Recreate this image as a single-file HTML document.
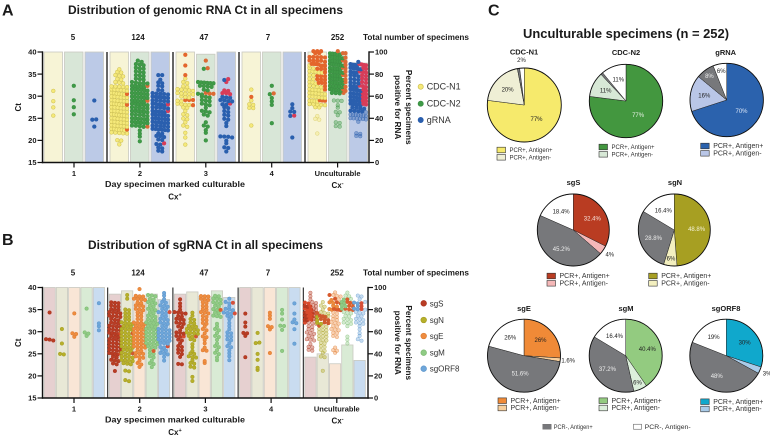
<!DOCTYPE html>
<html lang="en">
<head>
<meta charset="utf-8">
<title>Ct distribution and unculturable specimens</title>
<style>
html,body{margin:0;padding:0;background:#fff;width:770px;height:435px;overflow:hidden}
svg{display:block;font-family:"Liberation Sans",sans-serif}
</style>
</head>
<body>
<svg id="fig" width="770" height="435" viewBox="0 0 770 435" xmlns="http://www.w3.org/2000/svg"></svg>
<script>
// ---------- Panel A / B shared categories ----------
const groupCounts = ["5", "124", "47", "7", "252"];
const groupLabels = ["1", "2", "3", "4", "Unculturable"];
const ctTicks = [15, 20, 25, 30, 35, 40];
const pctTicks = [0, 20, 40, 60, 80, 100];

// ---------- Panel A: percent positive bars ----------
const barN1 = [100, 100, 100, 100, 100];
const barN2 = [100, 100, 98, 100, 100];
const barG = [100, 100, 100, 100, 90];

// ---------- Panel A: Ct values, by group ----------
const n1Normal = [
 [31, 28.8, 27.6, 25.5],
 [35.9,35.5,35.2,34.9,34.6,34.3,34.0,33.6,33.4,33.1,32.8,32.2,32.2,32.1,32.0,31.9,31.7,31.6,31.5,31.3,31.2,31.0,30.9,30.8,30.6,30.5,30.3,30.2,30.1,30.0,29.9,29.7,29.6,29.5,29.3,29.2,29.0,28.9,28.8,28.7,28.5,28.4,28.3,28.1,28.0,27.9,27.7,27.6,27.5,27.3,27.2,27.1,26.9,26.8,26.7,26.5,26.4,26.3,26.1,26.0,25.9,25.7,25.6,25.5,25.3,25.2,25.1,24.9,24.8,24.7,24.5,24.4,24.3,24.1,24.0,23.9,23.7,23.6,23.5,23.3,23.2,23.1,22.9,22.8,22.7,22.5,22.4,22.3,22.1,22.0,21.9,21.7,21.6,21.5,20.1,19.9,19.0],
 [34.1,33.4,32.9,32.3,31.9,31.8,31.6,31.4,31.2,31,30.9,30.7,30.5,30.4,30.2,30.1,29.8,29.6,29.0,28.8,28.5,28.2,28.0,27.9,27.6,27.4,26.8,26.1,25.7,25.0,24.7,24.1,23.5,22.9,21.8,20.5,18.9],
 [31.6,29.1,28.2,27.9,27.4,27.3,23.5],
 [36.9,36.5,36.3,35.8,35.7,35.5,35.2,35.1,34.9,34.8,34.1,33.9,33.4,33.2,32.7,32.6,32.4,32.1,31.9,31.8,31.5,31.4,31.3,31.1,30.9,30.8,30.7,30.5,30.4,30.3,30.1,30,29.8,29.7,29.5,29.4,29,28.9,28.8,28.7,28.3,28.2,28.1,27.9,27.8,27.7,27.6]
];
const n1Hi = [
 [],
 [30.4, 28, 22.5],
 [39.2,36.8,34.9,29.3,29.3,29.3,27.8],
 [29.9],
 [40,40,40,39.9,39.9,39,39,38.9,38.9,38.8,38.3,38.2,38.2,38.1,37.6,37.5,37.5,37.4,37.3,36.8,36.7,36.7,36.1,36,35.9,35.3,34.5,34.4,34.3,33.8,33.7,33.6,33.0,33,32.9,32.2,31.6,29.2,29.1,29]
];
const n1Pale = [[], [], [], [], [25.3,24.9,24.5,21.5]];

const n2Normal = [
 [32.5, 29.2, 27.7, 26.1],
 [38.2,37.6,37.4,37.2,36.9,36.6,36.3,36.1,35.8,35.5,35.2,34.9,34.7,34.4,34.1,33.9,33.6,33.4,33.1,32.9,32.8,32.7,32.5,32.4,32.2,32.1,31.9,31.8,31.7,31.5,31.4,31.2,31.1,30.9,30.8,30.7,30.5,30.4,30.2,30.1,29.9,29.8,29.7,29.5,29.4,29.2,29.1,28.9,28.8,28.7,28.5,28.4,28.2,28.1,27.9,27.8,27.7,27.5,27.4,27.2,27.1,26.9,26.8,26.7,26.5,26.4,26.2,26.1,25.9,25.8,25.7,25.3,25.2,25.1,24.9,24.8,24.7,24.5,24.4,24.2,24.1,23.9,23.8,23.7,23.5,23.4,23.2,22.9,22.1,21.4,20.9,19.6],
 [36.1,33.4,33.2,33.1,33,32.9,32.8,32.5,32.4,32.2,32,31.6,31.2,30.5,30.2,30.1,29.9,29.6,29.3,29,28.8,28.5,28.1,27.8,27.4,26.9,26.6,26.2,26,25.5,24.1,23.5,23,22.2,21.8,20],
 [32.5,30.3,29.4,28.7,27.9,23.7],
 [39.8,39.7,39.6,39.4,39.3,39.1,38.9,38.8,38.6,38.5,38.4,38.2,38.1,37.9,37.8,37.7,37.5,37.4,37.2,37.1,36.9,36.8,36.7,36.5,36.4,36.2,36.1,35.9,35.8,35.7,35.5,35.4,35.2,35.1,34.9,34.8,34.7,34.5,34.4,34.2,34.1,33.9,33.8,33.7,33.5,33.4,33.2,33.1,32.9,32.8,32.7,32.5,32.4,32.2,32.1,31.9,31.8,31.7,31.5,31.4,31.2,31.1,30.9,30.8,30.7]
];
const n2Hi = [
 [],
 [32.5, 29, 23],
 [38.2,36.4,30.9,30.6,30.5],
 [30.7],
 [40,39.9,39.9,38.7,38.3,37.6,37,36.6,36.3,35.6,35,34.6,33.6,33.3,32,31.6,31,30.9]
];
const n2Pale = [[], [], [], [], [29.1,29,28.9,27.8,27.5,26.4,26.2,25.7,24.1,23.8,23.2,23]];

const gNormal = [
 [29.1, 24.5, 24.6, 23],
 [34.9,34.9,33.6,33.2,32.8,32.5,32.2,31.4,31.2,30.8,30.6,30.5,30.4,30.2,30.1,29.9,29.8,29.7,29.5,29.4,29.2,29.1,28.9,28.8,28.7,28.5,28.4,28.1,27.9,27.8,27.7,27.5,27.4,27.2,27.1,26.9,26.6,26.5,26.4,26.2,26.1,25.9,25.8,25.7,25.5,25.4,25.2,25.1,24.9,24.8,24.7,24.5,24.4,24.2,24.1,23.9,23.8,23.7,23.5,23.4,23.2,23.1,22.9,22.8,22.7,22.5,22.4,22.2,22.1,21.5,21.4,21.2,21.1,20.7,20.4,20.2,19.2,18.9,18.4,18,17.8,17.4],
 [33.5,29.9,29.7,29.5,29.3,29.1,28.8,28.7,28.2,28,27.7,27.3,26.8,26.3,25.9,25.5,24.9,24.5,23.8,23.2,21,20.9,20.8,20.5,19.8,19.5,18.5,18.2,17.4],
 [28.2,27.3,26.5,26.4,25.4,20.5],
 [37.6,37.4,37.2,37.1,36.8,36.6,36.4,36.2,36,35.9,35.6,35.3,35.1,34.9,34.6,34.3,34,33.7,33.5,33.2,32.9,32.7,32.5,32.2,32,31.8,31.6,31.4,31.2,31,30.8,30.6,30.4,30.2,30,29.8,29.6,29.4,29.2,29,28.9,28.7,28.5,28.3,28.2,28,27.8,27.6,27.4,27.2,27,26.9,26.8,26.6,26.5]
];
const gHi = [
 [],
 [28.2, 26.8, 19.5],
 [33.9,33.4,31.2,31,30.8,30.8,30.3,28.5],
 [25.5],
 [37.5,37.3,37,36.9,36.5,36.1,35.7,35.5,35.2,34.8,34.5,34.2,33.8,33.4,33,32.6,32.3,31.9,31.5,31.1,30.7,30.3,29.9,29.5,29.1,28.8,28.4,28.1]
];
const gPale = [[], [], [], [], [26.2,26,25.9,25.8,25.7,25.6,25.5,25.3,25.2,25.1,25,24.9,24.8,24.6,24.4,21.6,21.3,21.2,21.1]];

// ---------- Panel B: percent positive bars ----------
const barS = [100, 94, 94, 100, 37];
const barNs = [100, 97, 96, 100, 40];
const barE = [100, 90.5, 92, 100, 31];
const barM = [100, 94, 97, 100, 48];
const barO = [100, 89, 91, 100, 34];

// ---------- Panel B: Ct values, by group ----------
const sNormal = [
 [34.4, 28.5, 28.3, 27.9],
 [36.7,36.5,36.3,36.1,35.7,35.5,35.2,35,34.8,34.6,34.4,34.2,34,33.8,33.6,33.4,33.2,33,32.6,32.4,32.2,32,31.7,31.5,31.3,31.1,30.9,30.7,30.5,30.3,30.1,29.9,29.7,29.5,29.3,29.1,28.9,28.7,28.5,28.3,28.1,27.9,27.7,27.5,27.3,27.1,26.9,26.7,26.5,26.3,26.1,25.9,25.7,25.5,25.3,25.1,24.9,24.7,24.4,24.1,23.8,23.5,23.2,22.9,22.5,21],
 [37.3,36.2,35.6,34.9,34.6,34.4,34.1,33.9,33.6,33.3,33.1,32.8,32.5,32.2,31.9,31.6,31.2,30.9,30.2,30,29.7,29.5,29.2,28.8,28.3,27.9,27.4,26.9,26.5,26.1,25.7,25.4,24.8,24.3,22.7,22.5],
 [33.9,32.2,31.1,29.8,29.6,29.2,24.2],
 [35.9,35.5,34.3,34,33.7,33.2,32.8,32.4]
];
const sHi = [[], [29.6,25.2], [29], [], [36.6,36.2,35.7,35.4,35.1,35,34.8,34.6,34.4,34.2,34.1,33.9,33.7,33.5,33.3,33.1,32.7,32.1]];
const sPale = [[], [], [], [], [38.7,37.9,37.2,36.8,36.4,36.1,35.7,35.3,34.9,34.6,34.3,34,33.6,33.2,32.9,32.5,32.2,31.9,31.6,31.3,31,30.7,30.4,30,29.7,29.4,29.1,28.8,28.5,28.2,27.9,27.1,26.6,26.3,26,25.6]];

const nNormal = [
 [30.8, 27.3, 24.9, 24.7],
 [38.5,37.6,35,34.7,34.2,33.9,33.5,33.2,32.9,32.6,32.3,32,31.8,31.6,31.4,31.2,31,30.8,30.6,30.4,30.2,30,29.8,29.4,29.2,29,28.8,28.6,28.4,28.2,28,27.8,27.6,27.4,27.2,27,26.8,26.6,26.4,26.2,26,25.8,25.6,25.4,25,24.8,24.6,24.4,24.2,24,23.8,23.6,23.4,23.2,23,22.8,22.5,21.2,20.9,19.2,18.7],
 [34.3,33.7,33,32.6,32.2,31.8,31.4,31.2,31,30.8,30.6,30.4,30.2,30,29.8,29.6,29.4,29.2,28.8,28.5,28,27,26.4,25.5,25.2,24.9,24.6,24.2,24,23.6,23.1,22.8,22.2,21.8,19.9,18.8],
 [29.8,27.5,27.7,24.9,23.8,21.7,21.5],
 [33.2,32.4,32,31.6]
];
const nHi = [[], [29.6,25.2], [29], [], [34.2,33.8,33.5,33.2,33,32.7,32.5,32.2,31.9,31.5]];
const nPale = [[], [], [], [], [36.8,36,35.5,35,34.6,34.2,33.9,33.6,31.2,31,30.7,30.4,30.2,30,29.8,29.5,29.2,29,28.8,28.5,28.2,27.9,27.6,27.3,26.9,26.5,26,25.5,25.3,24.5,24.2,21.1]];

const eNormal = [
 [34, 29.6, 29.3, 28.8],
 [39.6,38.1,37.9,37.8,37.6,37.4,37.2,37,36.6,36.3,36.1,35.9,35.6,35.3,35,34.7,34.4,34.1,33.8,33.4,33,32.6,32.2,32,31.8,31.6,31.4,31.2,31,30.8,30.6,30.4,30.2,30,29.8,29.6,29.4,29.2,29,28.8,28.6,28.4,28.2,28,27.8,27.6,27.4,27.2,27,26.8,26.6,26.4,26.2,26,25.5,25.3,25.1,24.9,24.6,24.2,23.9,23.4,23.1,22.4,22.1],
 [38,37.9,37.8,37.6,37.2,37,36.7,36.3,35.9,35.5,35.2,34.9,34.6,34.3,34,33.6,33.2,32.8,32.4,32,31.6,31.2,30.8,30.2,29.6,29,28.6,28.1,27.4,26.2,25.8,25.6,23.2,23.1],
 [34.3,33.8,33.1,31.3,30.9,30.6,25.3],
 [37,36.7,36.4,36,35.6,35.2,34.9]
];
const eHi = [[], [], [], [], [38.5,37.6,36.7,36.2,35.3,35,34.9,34.7]];
const ePale = [[], [], [], [], [38.9,38.5,38.1,37.8,37.2,34.4,33.9,33.5,33.2,32.9,32.6,32.3,32,31.7,31.4,31.1,30.8,30.5,30.2,29.9,29.6,29.2,28.7,26.2,25.8,25.6,25.4]];

const mNormal = [
 [35.4, 30, 29.5, 29.2],
 [38.5,38.3,37.9,37.5,37.1,36.8,36.6,36.2,35.9,35.6,35.3,35,34.7,34.4,34.1,33.8,33.5,33.2,32.9,32.6,32.4,32.2,32,31.8,31.6,31.4,31.2,31,30.8,30.6,30.4,30.2,30,29.8,29.6,29.4,29.2,29,28.8,28.6,28.4,28.2,28,27.8,27.6,27.4,27.2,27,26.8,26.5,26.2,25.9,25.2,24.9,24.6,24.1,23.4,23,22.6,22],
 [38.1,37.9,37.7,37.4,37.1,36.8,36.5,36.2,35.9,35.6,35.2,34.9,34.4,34.1,33.8,33.5,33.2,31.6,31.1,30.8,30.2,29.7,29.2,28.7,28.2,27.3,26.9,26.4,25.8,25.4,24.8,24.1,23.6],
 [34.8,33.9,32.8,31.5,31.4,30.4,25.5],
 [37.2,36.8,36.4,36.1,35.7,35.4]
];
const mHi = [[], [25.5], [34.8], [], [37.3,36.9,36.5,36.2,35.9,35.6,35.3,35,34.8]];
const mPale = [[], [], [], [], [38.8,38.2,37.9,37.5,34.6,34.3,34,33.7,33.4,33.1,32.8,32.5,32.2,31.9,31.6,31.3,28.9,28.2,27.3]];

const oNormal = [
 [36.3, 31.8, 31.3, 30.2],
 [38.6,38.2,37.3,36.9,36.5,36.1,35.8,35.5,35.2,34.9,34.6,34.3,34,33.7,33.4,33.1,32.8,32.5,32.2,31.9,31.6,31.3,31,30.8,30.6,30.4,30.2,30,29.8,29.6,29.4,29.2,29,28.8,28.6,28.4,28.2,28,27.8,27.6,27.4,27.2,26.5,26.2,25.9,25.6,25.3,25,24.7,24.3,23.4],
 [37.6,36.9,36.2,35.6,35.3,35,34.7,34.4,34.2,33.9,33.7,33.3,32.9,32,31.4,30.7,30,29.6,29.2,28.8,28.4,28,27.4,26.9,26.4,25.8,25.2,24.6,23.6],
 [36.2,33.9,32.8,32.3,31.9,30.7,27.2],
 [36.6,36.2,35.8,35.4,35.1]
];
const oHi = [[], [26.8,34.6], [36.5,34], [], [36.3,35.7,35.2]];
const oPale = [[], [], [], [], [38.2,37.8,37.3,36.9,34.9,34.6,34.3,34,33.7,33.4,33.1,32.8,32.5,32.2,31.9,31.6,31.3,30.6,29.7,29.2,28.5,27.8]];

// ---------- Panel C: pie data ----------
const pieNames = ["CDC-N1","CDC-N2","gRNA","sgS","sgN","sgE","sgM","sgORF8"];
const sliceAgPos = [77, 77, 70, 32.4, 48.8, 26, 40.4, 30];
const sliceAgNeg = [20, 11, 16, 4, 6, 1.6, 6, 3];
const sliceNegPos = [1, 1, 8, 45.2, 28.8, 51.6, 37.2, 48];
const sliceNegNeg = [2, 11, 6, 18.4, 16.4, 20.8, 16.4, 19];
const labelAgPos = ["77%","77%","70%","32.4%","48.8%","26%","40.4%","30%"];
const labelAgNeg = ["20%","11%","16%","4%","6%","1.6%","6%","3%"];
const labelNegPos = ["","","8%","45.2%","28.8%","51.6%","37.2%","48%"];
const labelNegNeg = ["2%","11%","6%","18.4%","16.4%","26%","16.4%","19%"];
const legendItems = ["PCR+, Antigen+","PCR+, Antigen-"];

// ---------- helpers ----------
const NS = "http://www.w3.org/2000/svg";
const root = document.getElementById("fig");
function mk(tag, attrs, name, parent){
  const el = document.createElementNS(NS, tag);
  for (const k in attrs) el.setAttribute(k, attrs[k]);
  
  
  (parent || root).appendChild(el);
  return el;
}
function txt(x, y, s, size, bold, name, extra, parent){
  const a = {x:x, y:y, "font-size":size, fill:"#1a1a1a"};
  if (bold) a["font-weight"] = "bold";
  if (extra) for (const k in extra) a[k] = extra[k];
  const el = mk("text", a, name, parent);
  el.textContent = s;
  return el;
}
function sup(x, y, base, mark, name){
  const el = mk("text", {x:x, y:y, "font-size":8, "font-weight":"bold", "text-anchor":"middle", fill:"#1a1a1a"}, name);
  el.textContent = base;
  const t = document.createElementNS(NS, "tspan");
  t.setAttribute("dy", "-3");
  t.setAttribute("font-size", "5.5");
  t.textContent = mark;
  el.appendChild(t);
}

// Row-based swarm: values share a row when within one dot height, and each
// row spreads symmetrically across the bar (as Prism scatter columns do).
function swarm(values, cx, halfW, d, yOf){
  const rows = new Map();
  values.forEach(it=>{
    const y = yOf(it.v);
    const key = Math.round(y / d);
    if (!rows.has(key)) rows.set(key, []);
    rows.get(key).push({y:y, kind:it.kind, v:it.v});
  });
  const out = [];
  [...rows.keys()].sort((a,b)=>b-a).forEach(key=>{
    const row = rows.get(key);
    const n = row.length;
    const spacing = n > 1 ? Math.min(d * 1.08, (2*halfW) / (n-1)) : 0;
    row.forEach((it, i)=>{
      const off = (i - (n-1)/2) * spacing;
      out.push({x:cx+off, y:it.y*0.5 + key*d*0.5, kind:it.kind});
    });
  });
  return out;
}

function panel(cfg){
  const yCt = v => cfg.top + (40 - v) * (cfg.bottom - cfg.top) / 25;
  const yPct = p => cfg.bottom - p * (cfg.bottom - cfg.top) / 100;
  const pg = mk("g", {}, cfg.id + "-plot");
  cfg.series.forEach((s, si)=>{
    groupCounts.forEach((_, gi)=>{
      const x = cfg.gx(gi) + si * cfg.pitch;
      mk("rect", {x:x, y:yPct(s.bar[gi]), width:cfg.barW, height:cfg.bottom - yPct(s.bar[gi]), fill:s.barFill, stroke:"#c9c9c0", "stroke-width":0.8}, cfg.id + "-bar-" + s.key + "-" + (gi+1), pg);
    });
  });
  for (let k = 1; k <= 4; k++){
    const sx = cfg.sep0 + k * cfg.sepStep;
    mk("line", {x1:sx, x2:sx, y1:cfg.top, y2:cfg.bottom, stroke:cfg.sepColor, "stroke-width":cfg.sepW}, cfg.id + "-group-separator-" + k, pg);
  }
  cfg.series.forEach((s, si)=>{
    groupCounts.forEach((_, gi)=>{
      const cx = cfg.gx(gi) + si * cfg.pitch + cfg.barW / 2;
      const vals = [];
      s.normal[gi].forEach(v=>vals.push({v:v, kind:"n"}));
      s.hi[gi].forEach(v=>vals.push({v:v, kind:"h"}));
      s.pale[gi].forEach(v=>vals.push({v:v, kind:"p"}));
      swarm(vals, cx, cfg.barW/2 + cfg.spill, cfg.d, yCt).forEach(p=>{
        const isH = p.kind === "h", isP = p.kind === "p";
        mk("circle", {cx:p.x.toFixed(1), cy:p.y.toFixed(1), r:cfg.r,
          fill:isH ? s.hiFill : s.fill, stroke:isH ? s.hiFill : s.stroke, "stroke-width":0.5,
          "fill-opacity":isP ? 0.4 : 1, "stroke-opacity":isP ? 0.6 : 1}, cfg.id + "-point-" + s.key, pg);
      });
    });
  });
  // axes
  mk("line", {x1:cfg.left, x2:cfg.left, y1:cfg.top-0.7, y2:cfg.bottom+0.7, stroke:"#111", "stroke-width":1.4}, cfg.id + "-left-axis");
  mk("line", {x1:cfg.right, x2:cfg.right, y1:cfg.top-0.7, y2:cfg.bottom+0.7, stroke:"#111", "stroke-width":1.4}, cfg.id + "-right-axis");
  mk("line", {x1:cfg.left-0.7, x2:cfg.right+0.7, y1:cfg.bottom, y2:cfg.bottom, stroke:"#111", "stroke-width":1.4}, cfg.id + "-x-axis");
  ctTicks.forEach(t=>{
    mk("line", {x1:cfg.left-5, x2:cfg.left, y1:yCt(t), y2:yCt(t), stroke:"#111", "stroke-width":1.2}, cfg.id + "-y-tick");
    txt(cfg.left-6, yCt(t)+2.7, String(t), 7.5, true, cfg.id + "-y-tick-label", {"text-anchor":"end"});
  });
  pctTicks.forEach(t=>{
    mk("line", {x1:cfg.right, x2:cfg.right+5, y1:yPct(t), y2:yPct(t), stroke:"#111", "stroke-width":1.2}, cfg.id + "-right-tick");
    txt(cfg.right+6, yPct(t)+2.7, String(t), 7.5, true, cfg.id + "-right-tick-label");
  });
  groupLabels.forEach((l, i)=>{
    const tx = cfg.tickX(i);
    mk("line", {x1:tx, x2:tx, y1:cfg.bottom, y2:cfg.bottom+5, stroke:"#111", "stroke-width":1.2}, cfg.id + "-x-tick");
    txt(tx, cfg.bottom+13.5, l, 7.5, true, cfg.id + "-x-tick-label", {"text-anchor":"middle"});
    txt(cfg.countX[i], cfg.top-12, groupCounts[i], 8, true, cfg.id + "-specimen-count", {"text-anchor":"middle"});
  });
  txt(363, cfg.top-12, "Total number of specimens", 8.2, true, cfg.id + "-total-specimens-label", {textLength:106, lengthAdjust:"spacingAndGlyphs"});
  const my = (cfg.top+cfg.bottom)/2;
  txt(21, my, "Ct", 8, true, cfg.id + "-y-axis-title", {"text-anchor":"middle", transform:"rotate(-90 21 "+my+")"});
  txt(406, my, "Percent specimens", 8.2, true, cfg.id + "-right-axis-title-1", {"text-anchor":"middle", transform:"rotate(90 406 "+my+")"});
  txt(395, my, "positive for RNA", 8.2, true, cfg.id + "-right-axis-title-2", {"text-anchor":"middle", transform:"rotate(90 395 "+my+")"});
  txt(105, cfg.bottom+24.5, "Day specimen marked culturable", 8, true, cfg.id + "-x-axis-title", {textLength:140, lengthAdjust:"spacingAndGlyphs"});
  sup(175, cfg.bottom+37, "Cx", "+", cfg.id + "-cx-positive-label");
  sup(337.5, cfg.bottom+25.5, "Cx", "-", cfg.id + "-cx-negative-label");
  // legend
  cfg.series.forEach((s, i)=>{
    const ly = cfg.legendY[i];
    mk("circle", {cx:cfg.legendX, cy:ly, r:cfg.legendR, fill:s.fill, stroke:s.stroke, "stroke-width":0.7}, "legend-marker-" + s.key);
    txt(cfg.legendX+6, ly+3, s.name, cfg.legendSize, false, "legend-entry-" + s.key, {fill:"#333"});
  });
}

// ---------- static text ----------
txt(2, 15.5, "A", 16, true, "panel-label-a");
txt(2, 245, "B", 16, true, "panel-label-b");
txt(488, 15.5, "C", 16, true, "panel-label-c");
txt(68, 14, "Distribution of genomic RNA Ct in all specimens", 12, true, "panel-a-title", {textLength:275, lengthAdjust:"spacingAndGlyphs"});
txt(88, 249, "Distribution of sgRNA Ct in all specimens", 12, true, "panel-b-title", {textLength:235, lengthAdjust:"spacingAndGlyphs"});
txt(523, 38, "Unculturable specimens (n = 252)", 13, true, "panel-c-title", {textLength:206, lengthAdjust:"spacingAndGlyphs"});

panel({
  id:"panel-a", top:52, bottom:162.5, left:42.5, right:369,
  gx:i=>44+i*66, pitch:20.5, barW:18.5, sep0:41, sepStep:66, sepColor:"#666", sepW:2,
  tickX:i=>74+i*65.9, countX:[73,138,204,268,337.5], r:1.9, d:3.6, spill:-1.5,
  legendX:420.7, legendY:[86.7,103.7,120], legendR:2.6, legendSize:9,
  series:[
   {key:"cdc-n1", name:"CDC-N1", bar:barN1, barFill:"#f7f4d6", fill:"#f5e97a", stroke:"#cdbf50", hiFill:"#e4662c", normal:n1Normal, hi:n1Hi, pale:n1Pale},
   {key:"cdc-n2", name:"CDC-N2", bar:barN2, barFill:"#d8e6d7", fill:"#3f9a47", stroke:"#3a8f42", hiFill:"#dc6b36", normal:n2Normal, hi:n2Hi, pale:n2Pale},
   {key:"grna", name:"gRNA", bar:barG, barFill:"#bccae7", fill:"#2a5fae", stroke:"#2a5fae", hiFill:"#d83c58", normal:gNormal, hi:gHi, pale:gPale}
  ]
});

panel({
  id:"panel-b", top:287.5, bottom:398, left:42.5, right:368,
  gx:i=>44+i*65.2, pitch:12.3, barW:11.3, sep0:42.5, sepStep:65.2, sepColor:"#111", sepW:1,
  tickX:i=>74+i*65.7, countX:[73,138,204,268,337], r:1.8, d:3.4, spill:0,
  legendX:423.7, legendY:[303.3,320,336,352.7,368.7], legendR:2.8, legendSize:8,
  series:[
   {key:"sgs", name:"sgS", bar:barS, barFill:"#e6d0d0", fill:"#b93c24", stroke:"#a9351f", hiFill:"#d84a2c", normal:sNormal, hi:sHi, pale:sPale},
   {key:"sgn", name:"sgN", bar:barNs, barFill:"#e8e8d6", fill:"#b7b02a", stroke:"#a39c22", hiFill:"#cf5a2e", normal:nNormal, hi:nHi, pale:nPale},
   {key:"sge", name:"sgE", bar:barE, barFill:"#f9e6d6", fill:"#ef8c3f", stroke:"#dc7d33", hiFill:"#d8592c", normal:eNormal, hi:eHi, pale:ePale},
   {key:"sgm", name:"sgM", bar:barM, barFill:"#d9ebd5", fill:"#8fcb84", stroke:"#7dba72", hiFill:"#d8602f", normal:mNormal, hi:mHi, pale:mPale},
   {key:"sgorf8", name:"sgORF8", bar:barO, barFill:"#c9dcf0", fill:"#6ea6da", stroke:"#5f97cb", hiFill:"#d6503a", normal:oNormal, hi:oHi, pale:oPale}
  ]
});

// ---------- pies ----------
const pieLayout = [
 {cx:524.3, cy:105, r:37, tx:524, ty:54.5, sw:497, ly:150, fs:6, main:"#f6ea6c", light:"#efefd5", mainText:"#222"},
 {cx:626, cy:101, r:36.7, tx:626, ty:55, sw:599, ly:147, fs:6, main:"#43973f", light:"#d7e8d6", mainText:"#e8f2e6"},
 {cx:726.7, cy:100, r:36.7, tx:725.7, ty:55, sw:700.7, ly:146, fs:7, main:"#2b62ad", light:"#b9c6e7", mainText:"#dbe6f7"},
 {cx:573.3, cy:230, r:36, tx:573.5, ty:185, sw:547, ly:276, fs:7, main:"#b93c22", light:"#f5b8b8", mainText:"#f7e3dc"},
 {cx:674.3, cy:230, r:36, tx:675, ty:185, sw:648.7, ly:276, fs:7, main:"#a79f22", light:"#f3efbf", mainText:"#f5f3d8"},
 {cx:524, cy:355.7, r:36.5, tx:524, ty:311, sw:498, ly:400.7, fs:7, main:"#f08a37", light:"#f8cf9c", mainText:"#222"},
 {cx:625.7, cy:355.7, r:36.5, tx:626, ty:311, sw:599, ly:400.7, fs:7, main:"#93cb80", light:"#dcefdb", mainText:"#222"},
 {cx:726.3, cy:355.7, r:36.5, tx:726, ty:311, sw:700.7, ly:401.7, fs:7, main:"#10a8cc", light:"#a9cbe8", mainText:"#222"}
];
function polar(cx, cy, r, frac){
  const a = frac * 2 * Math.PI;
  return [cx + r*Math.sin(a), cy - r*Math.cos(a)];
}
pieLayout.forEach((p, i)=>{
  const key = pieNames[i].toLowerCase();
  const vals = [sliceAgPos[i], sliceAgNeg[i], sliceNegPos[i], sliceNegNeg[i]];
  const labels = [labelAgPos[i], labelAgNeg[i], labelNegPos[i], labelNegNeg[i]];
  const fills = [p.main, p.light, "#77787b", "#ffffff"];
  const textFills = [p.mainText, "#222", "#eeeeee", "#222"];
  const total = vals.reduce((a,b)=>a+b, 0);
  txt(p.tx, p.ty, pieNames[i], 7.5, true, "pie-title-" + key, {"text-anchor":"middle"});
  let acc = 0;
  const g = mk("g", {}, "pie-" + key);
  vals.forEach((v, si)=>{
    const f0 = acc/total, f1 = (acc+v)/total;
    acc += v;
    const a = polar(p.cx, p.cy, p.r, f0), b = polar(p.cx, p.cy, p.r, f1);
    const large = (f1-f0) > 0.5 ? 1 : 0;
    mk("path", {d:"M"+p.cx+" "+p.cy+"L"+a[0].toFixed(2)+" "+a[1].toFixed(2)+"A"+p.r+" "+p.r+" 0 "+large+" 1 "+b[0].toFixed(2)+" "+b[1].toFixed(2)+"Z", fill:fills[si], stroke:"#222", "stroke-width":0.5}, "pie-slice-" + key + "-" + (si+1), g);
  });
  mk("circle", {cx:p.cx, cy:p.cy, r:p.r, fill:"none", stroke:"#111", "stroke-width":0.9}, "pie-outline-" + key, g);
  acc = 0;
  vals.forEach((v, si)=>{
    const mid = (acc + v/2)/total;
    acc += v;
    if (!labels[si]) return;
    const frac = v/total;
    let rr, color = textFills[si];
    if (frac < 0.05){ rr = p.r + 8; color = "#222"; }
    else if (frac < 0.1) rr = p.r*0.8;
    else if (frac >= 0.5) rr = p.r*0.5;
    else rr = p.r*0.62;
    const q = polar(p.cx, p.cy, rr, mid);
    txt(q[0].toFixed(1), (q[1]+2).toFixed(1), labels[si], 6, false, "pie-label-" + key + "-" + (si+1), {"text-anchor":"middle", fill:color});
  });
  legendItems.forEach((l, li)=>{
    const y = p.ly + li*7.3;
    mk("rect", {x:p.sw, y:y-2.8, width:8.5, height:5.6, fill:li===0?p.main:p.light, stroke:"#333", "stroke-width":0.6}, "pie-legend-swatch-" + key + "-" + (li+1));
    txt(p.sw+12.5, y+2.2, l, p.fs, false, "pie-legend-label-" + key + "-" + (li+1), {fill:"#333"});
  });
});
mk("rect", {x:542.7, y:424.2, width:8.5, height:5, fill:"#77787b", stroke:"#666", "stroke-width":0.4}, "shared-legend-swatch-pcr-negative-antigen-positive");
txt(553.7, 429, "PCR-,  Antigen+", 6.3, false, "shared-legend-label-pcr-negative-antigen-positive", {fill:"#333", textLength:39, lengthAdjust:"spacingAndGlyphs"});
mk("rect", {x:633.5, y:424.2, width:8, height:5, fill:"#fff", stroke:"#444", "stroke-width":0.5}, "shared-legend-swatch-pcr-negative-antigen-negative");
txt(644.7, 429, "PCR-,  Antigen-", 6.5, false, "shared-legend-label-pcr-negative-antigen-negative", {fill:"#333", textLength:46, lengthAdjust:"spacingAndGlyphs"});
</script>
</body>
</html>
